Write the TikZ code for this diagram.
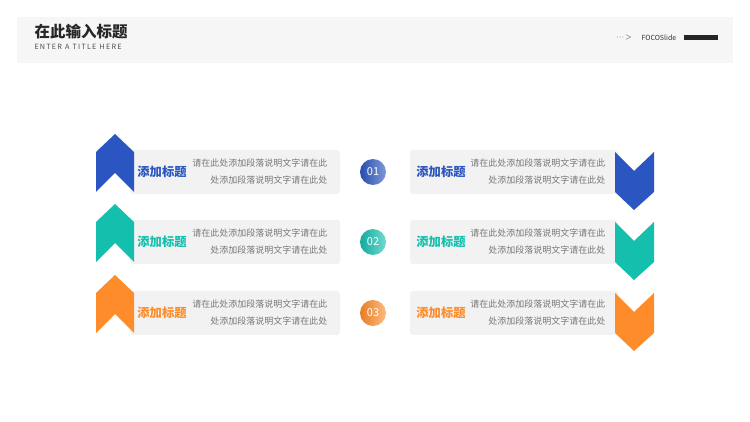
\documentclass[tikz,border=0pt]{standalone}
\usepackage{fontspec}
\setmainfont{Noto Sans CJK SC}
\definecolor{cA}{HTML}{2B55C0}
\definecolor{cB}{HTML}{14BFAE}
\definecolor{cC}{HTML}{FF8C2A}
\definecolor{boxg}{HTML}{F2F2F2}
\definecolor{txtg}{HTML}{777777}
\begin{document}
\begin{tikzpicture}[x=1pt,y=-1pt,
  cardbox/.style={fill=boxg,rounded corners=3pt},
  ttl/.style={font=\fontsize{12.3}{14}\selectfont\bfseries},
  body/.style={font=\fontsize{9}{17}\selectfont,text=txtg,align=right,anchor=east},
  num/.style={circle,minimum size=26pt,inner sep=0pt,text=white,font=\fontsize{11}{12}\selectfont}]
\useasboundingbox (0,0) rectangle (750,422);
\fill[white] (0,0) rectangle (750,422);
\fill[boxg!70] (17,17) rectangle (733,63);
\node[anchor=west,font=\fontsize{15.5}{17}\selectfont\bfseries,text=black!85] (t) at (31,32) {在此输入标题};
\node[anchor=west,font=\fontsize{7.2}{8}\selectfont,text=black!70] (st) at (31,47) {E\,N\,T\,E\,R\ \ A\ \ T\,I\,T\,L\,E\ \ H\,E\,R\,E};
\node[font=\fontsize{8}{9}\selectfont,text=black!80] (ar) at (624,38) {$\cdot\!\cdot\!\cdot\!>$};
\node[anchor=west,font=\fontsize{7}{8}\selectfont,text=black!80] (fc) at (638,38) {FOCOSlide};
\fill[black!85] (684,35.5) rectangle (718,40.5);
\foreach \c/\dy/\n in {cA/0/01,cB/70/02,cC/141/03}{
  \begin{scope}[yshift=-\dy]
  \fill[cardbox] (130,150) rectangle (340,194);
  \fill[\c] (96,152) -- (115,134) -- (134,152) -- (134,192) -- (115,173) -- (96,192) -- cycle;
  \node[ttl,text=\c] (lt\n) at (162,172) {添加标题};
  \node[body] (lb\n) at (331,172) {请在此处添加段落说明文字请在此\\处添加段落说明文字请在此处};
  \shade[left color=\c!90!black,right color=\c!60] (373,172) circle (13);
  \node[num] (c\n) at (373,172) {\n};
  \fill[cardbox] (410,150) rectangle (618,194);
  \fill[\c] (615,152) -- (634,171) -- (654,152) -- (654,192) -- (634,210) -- (615,192) -- cycle;
  \node[ttl,text=\c] (rt\n) at (441,172) {添加标题};
  \node[body] (rb\n) at (609,172) {请在此处添加段落说明文字请在此\\处添加段落说明文字请在此处};
  \end{scope}}
\end{tikzpicture}
\end{document}
